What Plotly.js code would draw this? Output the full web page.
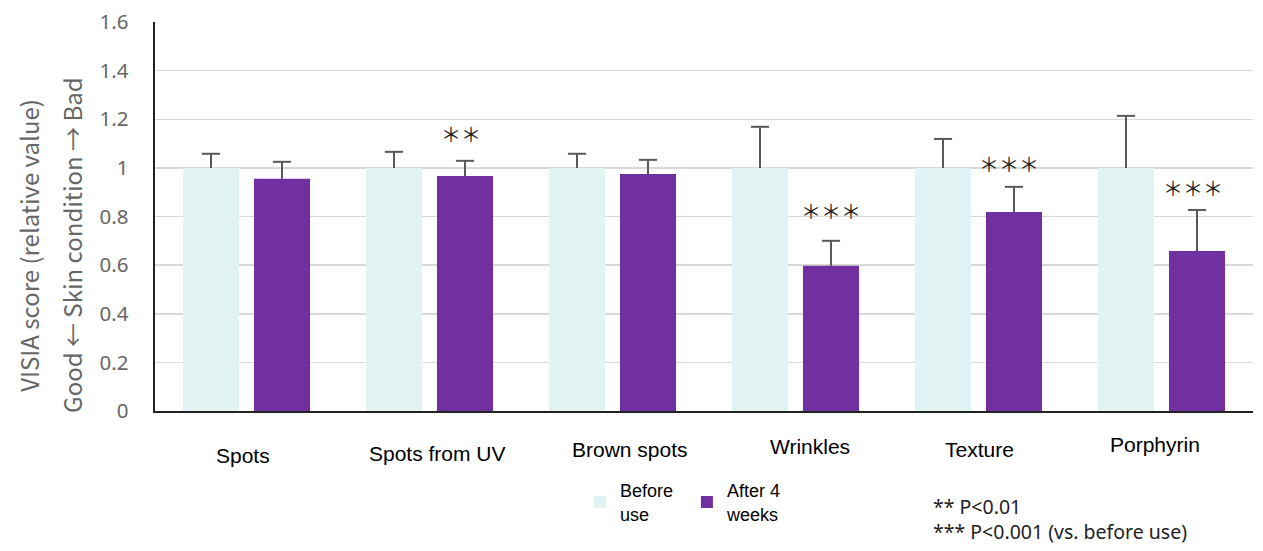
<!DOCTYPE html>
<html><head><meta charset="utf-8">
<script src="https://cdn.plot.ly/plotly-3.0.1.min.js"></script>
<style>html,body{margin:0;padding:0;background:#fff}#chart{width:1263px;height:551px}</style>
</head><body><div id="chart"></div>
<script>
const categories = ["Spots", "Spots from UV", "Brown spots", "Wrinkles", "Texture", "Porphyrin"];
const beforeValues = [1, 1, 1, 1, 1, 1];
const beforeErrors = [0.058, 0.066, 0.058, 0.169, 0.119, 0.214];
const afterValues = [0.955, 0.967, 0.975, 0.597, 0.819, 0.658];
const afterErrors = [0.070, 0.062, 0.058, 0.103, 0.103, 0.169];
const significance = ["", "＊＊", "", "＊＊＊", "＊＊＊", "＊＊＊"];
const significanceY = [0, 1.14, 0, 0.823, 1.02, 0.92];
const yTicks = [0, 0.2, 0.4, 0.6, 0.8, 1, 1.2, 1.4, 1.6];
const yTickLabels = ["0", "0.2", "0.4", "0.6", "0.8", "1", "1.2", "1.4", "1.6"];
const seriesNames = ["Before<br>use", "After 4<br>weeks"];

// label placement tweaks (pixels)
const labelYShift = [-44, -42, -38, -35, -38, -33];
const labelXShift = [-4, 8, 17, 14, 1, -7];
const starXShift = [0, 31, 0, 35, 30, 31];

const errStyle = {type: 'data', symmetric: false, color: '#595959', thickness: 2, width: 0};
const capStyle = {symbol: 'line-ew', size: 13, color: '#595959', line: {color: '#595959', width: 2}};

const traces = [
  {type: 'bar', name: seriesNames[0], x: categories, y: beforeValues, offsetgroup: 'before',
   marker: {color: '#e2f3f3'},
   error_y: Object.assign({array: beforeErrors, arrayminus: beforeValues.map(() => 0)}, errStyle)},
  {type: 'bar', name: seriesNames[1], x: categories, y: afterValues, offsetgroup: 'after',
   marker: {color: '#7030a0'},
   error_y: Object.assign({array: afterErrors, arrayminus: afterValues.map(() => 0)}, errStyle)},
  {type: 'scatter', mode: 'markers', x: categories, y: beforeValues.map((v, i) => v + beforeErrors[i]),
   offsetgroup: 'before', marker: capStyle, showlegend: false, hoverinfo: 'skip'},
  {type: 'scatter', mode: 'markers', x: categories, y: afterValues.map((v, i) => v + afterErrors[i]),
   offsetgroup: 'after', marker: capStyle, showlegend: false, hoverinfo: 'skip'}
];

const annotations = [];
categories.forEach((c, i) => {
  annotations.push({x: c, xref: 'x', y: 0, yref: 'paper', text: c, showarrow: false,
    xshift: labelXShift[i], yshift: labelYShift[i], yanchor: 'middle',
    font: {family: 'Liberation Sans, Arial, sans-serif', size: 21, color: '#000'}});
  if (significance[i]) {
    annotations.push({x: c, xref: 'x', y: significanceY[i], yref: 'y', text: significance[i],
      showarrow: false, xshift: starXShift[i], yanchor: 'middle',
      font: {family: 'Noto Sans CJK JP, sans-serif', size: 20, color: '#222'}});
  }
});
annotations.push({x: -0.1148, xref: 'paper', y: 0.427, yref: 'paper', textangle: -90,
  text: 'VISIA score (relative value)', showarrow: false, xanchor: 'center', yanchor: 'middle',
  font: {family: 'Noto Sans CJK JP, Noto Sans, sans-serif', size: 24, color: '#666'}});
annotations.push({x: -0.0756, xref: 'paper', y: 0.427, yref: 'paper', textangle: -90,
  text: 'Good ← Skin condition → Bad', showarrow: false, xanchor: 'center', yanchor: 'middle',
  font: {family: 'Noto Sans CJK JP, Noto Sans, sans-serif', size: 24, color: '#666'}});
annotations.push({x: 0.7068, xref: 'paper', y: -0.205, yref: 'paper', xanchor: 'left', yanchor: 'top', align: 'left',
  text: '** P<0.01<br>*** P<0.001 (vs. before use)', showarrow: false,
  font: {family: 'Noto Sans, sans-serif', size: 19.5, color: '#222'}});

const layout = {
  width: 1263, height: 551,
  margin: {l: 155, r: 10, t: 22, b: 140, autoexpand: false},
  paper_bgcolor: '#fff', plot_bgcolor: '#fff',
  barmode: 'group', bargap: 0.224, bargroupgap: 0.21,
  scattermode: 'group', scattergap: 0.224,
  xaxis: {showticklabels: false, ticks: '', showgrid: false, showline: true, linecolor: '#222', linewidth: 2, zeroline: false},
  yaxis: {range: [0, 1.6], tickvals: yTicks, ticktext: yTickLabels, showgrid: true, gridcolor: '#d9d9d9', gridwidth: 1.5,
    showline: true, linecolor: '#222', linewidth: 2.5, zeroline: false, ticks: '', ticklabelstandoff: 20,
    tickfont: {family: 'Noto Sans, Open Sans, sans-serif', size: 20.5, color: '#666'}},
  showlegend: true,
  legend: {orientation: 'h', x: 0.387, y: -0.157, xanchor: 'left', yanchor: 'top',
    font: {family: 'Liberation Sans, Arial, sans-serif', size: 18, color: '#000'},
    itemwidth: 30, tracegroupgap: 0, entrywidth: 62, entrywidthmode: 'pixels'},
  annotations: annotations
};

Plotly.newPlot('chart', traces, layout, {displayModeBar: false, staticPlot: true});
</script></body></html>
